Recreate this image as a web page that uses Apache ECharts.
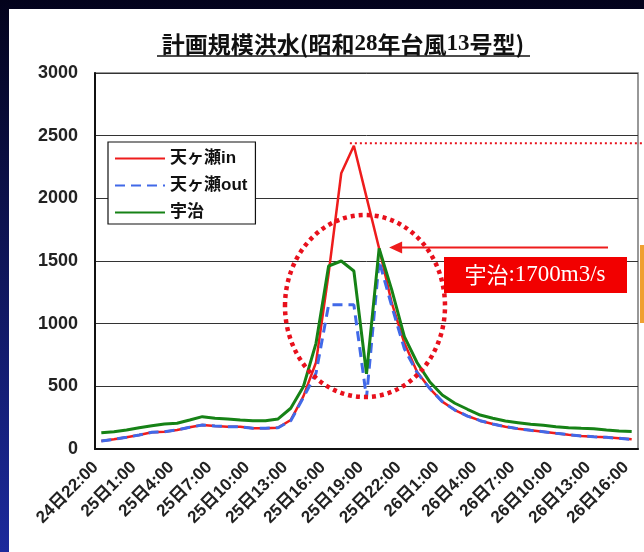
<!DOCTYPE html>
<html><head><meta charset="utf-8">
<script src="https://cdn.jsdelivr.net/npm/echarts@6/dist/echarts.min.js"></script>
<style>html,body{margin:0;padding:0;background:#fff}#c{width:644px;height:552px}</style>
</head><body><div id="c"></div>
<script>
const categories = ['24日22:00','24日23:00','25日0:00','25日1:00','25日2:00','25日3:00','25日4:00','25日5:00','25日6:00','25日7:00','25日8:00','25日9:00','25日10:00','25日11:00','25日12:00','25日13:00','25日14:00','25日15:00','25日16:00','25日17:00','25日18:00','25日19:00','25日20:00','25日21:00','25日22:00','25日23:00','26日0:00','26日1:00','26日2:00','26日3:00','26日4:00','26日5:00','26日6:00','26日7:00','26日8:00','26日9:00','26日10:00','26日11:00','26日12:00','26日13:00','26日14:00','26日15:00','26日16:00'];
const amagaseIn  = [64,77,93,112,133,138,152,173,192,184,178,178,165,165,170,231,420,690,1400,2200,2420,2010,1600,1165,845,617,484,378,311,263,226,200,178,162,149,138,125,114,104,98,93,85,77];
const amagaseOut = [64,77,93,112,133,138,152,173,192,184,178,178,165,165,170,225,410,604,1150,1150,1150,410,1500,1140,800,610,484,378,311,263,226,200,178,162,149,138,125,114,104,98,93,85,77];
const uji        = [130,138,152,170,186,200,205,231,258,245,240,231,226,226,240,325,497,843,1460,1500,1420,600,1600,1270,896,690,537,431,365,317,271,245,223,210,197,189,178,170,165,162,152,144,140];
const seriesNames = ['天ヶ瀬in','天ヶ瀬out','宇治'];
const yMin = 0, yMax = 3000, yStep = 500;
const peakLevel = 2440;
const titleText = '{a|計画規模洪水(昭和}{n|28}{a|年台風}{n|13}{a|号型)}';
const noteText = '{a|宇治}{b|:1700m3/s}';

const chart = echarts.init(document.getElementById('c'));
const baseGraphics = [
  {type:'rect', z:-101, shape:{x:0,y:0,width:644,height:552}, style:{fill:new echarts.graphic.LinearGradient(0,0,0,1,[{offset:0,color:'#03031c'},{offset:1,color:'#1c2a9c'}])}},
  {type:'rect', z:-100, shape:{x:9,y:9,width:635,height:543}, style:{fill:'#ffffff'}},
  {type:'text', x:343, y:44, style:{text:titleText, align:'center', verticalAlign:'middle', fill:'#111',
     rich:{a:{font:'bold 23px "Noto Sans CJK JP"', fill:'#111'}, n:{font:'bold 23px "Liberation Serif"', fill:'#111'}}}},
  {type:'line', shape:{x1:157,y1:56,x2:530,y2:56}, style:{stroke:'#111', lineWidth:1.5}},
  {type:'rect', shape:{x:640,y:245,width:4,height:78}, style:{fill:'#f0a030'}},
  {type:'ellipse', z:50, shape:{cx:365,cy:306,rx:80,ry:91}, style:{fill:null, stroke:'#e8101c', lineWidth:4.5, lineDash:[4,4]}},
  {type:'rect', z:50, shape:{x:444,y:257,width:183,height:36}, style:{fill:'#f20000'}},
  {type:'text', z:51, x:535, y:275, style:{text:noteText, align:'center', verticalAlign:'middle', fill:'#fff',
     rich:{a:{font:'22px "Noto Sans CJK JP"', fill:'#fff'}, b:{font:'23px "Liberation Serif"', fill:'#fff'}}}}
];

chart.setOption({
  animation:false,
  backgroundColor:'#fff',
  grid:{left:95, right:6, top:73, bottom:103, show:true, borderColor:'#777', borderWidth:1.5},
  legend:{left:108, top:142, orient:'vertical', itemWidth:50, itemHeight:14, itemGap:10,
    padding:[8,8,3,6], backgroundColor:'#fff', borderColor:'#111', borderWidth:1.2,
    itemStyle:{opacity:0},
    textStyle:{fontSize:17, fontWeight:'bold', color:'#111', fontFamily:'"Liberation Sans","Noto Sans CJK JP"'},
    data:seriesNames},
  xAxis:{type:'category', data:categories, boundaryGap:true,
    axisLine:{lineStyle:{color:'#111', width:2}},
    axisTick:{inside:true, length:5, interval:0, lineStyle:{color:'#111'}},
    axisLabel:{interval:2, rotate:45, margin:10, fontSize:17, fontWeight:'bold', color:'#222',
      padding:[0,8,0,0], fontFamily:'"Liberation Sans","Noto Sans CJK JP"'},
    splitLine:{show:false}},
  yAxis:{type:'value', min:yMin, max:yMax, interval:yStep,
    axisLine:{show:true, lineStyle:{color:'#111', width:2}},
    axisTick:{show:false},
    axisLabel:{fontSize:18, fontWeight:'bold', color:'#222', margin:17, fontFamily:'"Liberation Sans"',
      formatter:function(v){return String(v);}},
    splitLine:{lineStyle:{color:'#333', width:1}}},
  series:[
    {name:seriesNames[0], type:'line', data:amagaseIn, symbol:'none', lineStyle:{color:'#ee1c1c', width:2.5}, itemStyle:{color:'#ee1c1c'}, z:3},
    {name:seriesNames[1], type:'line', data:amagaseOut, symbol:'none', lineStyle:{color:'#4169e8', width:3, type:[10,6]}, itemStyle:{color:'#4169e8'}, z:4},
    {name:seriesNames[2], type:'line', data:uji, symbol:'none', lineStyle:{color:'#168216', width:3}, itemStyle:{color:'#168216'}, z:5}
  ],
  graphic:baseGraphics
});

const peakIdx = amagaseIn.indexOf(Math.max(...amagaseIn));
const peakPx = chart.convertToPixel({gridIndex:0}, [peakIdx, peakLevel]);
const ujiIdx = 22;
const ujiPx = chart.convertToPixel({gridIndex:0}, [ujiIdx, uji[ujiIdx]]);
const ay = ujiPx[1] - 1, tip = ujiPx[0] + 10;
chart.setOption({graphic: baseGraphics.concat([
  {type:'line', z:50, shape:{x1:peakPx[0]-4, y1:peakPx[1], x2:644, y2:peakPx[1]}, style:{stroke:'#e8101c', lineWidth:2, lineDash:[2,3]}},
  {type:'line', z:50, shape:{x1:tip+10, y1:ay, x2:608, y2:ay}, style:{stroke:'#ee1c1c', lineWidth:2}},
  {type:'polygon', z:50, shape:{points:[[tip,ay],[tip+13,ay-6],[tip+13,ay+6]]}, style:{fill:'#ee1c1c'}}
])}, {replaceMerge:['graphic']});
</script></body></html>
